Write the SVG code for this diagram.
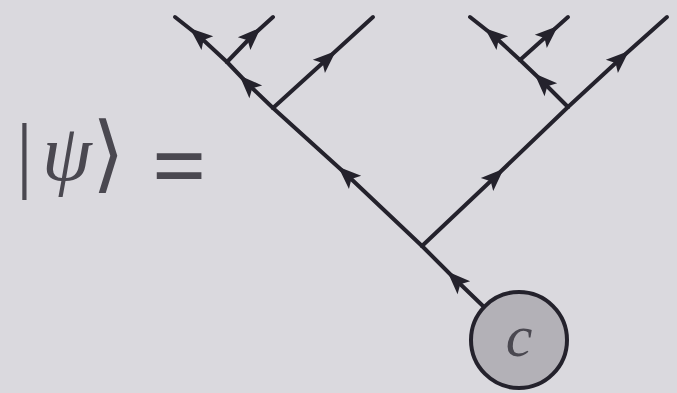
<svg xmlns="http://www.w3.org/2000/svg" width="677" height="393" viewBox="0 0 677 393">
<defs>
<style>
.e{fill:none;stroke:#24222c;stroke-width:4;stroke-linecap:round;marker-mid:url(#ah)}
.t{font-family:'Liberation Serif',serif;fill:#4a4850}
</style>
<marker id="ah" markerUnits="userSpaceOnUse" markerWidth="40" markerHeight="40" viewBox="-20 -20 40 40" refX="0" refY="0" orient="auto">
<path d="M12 0 L-11 -9 L-6 0 L-11 9 Z" fill="#24222c"/>
</marker>
</defs>
<rect width="677" height="393" fill="#dad9de"/>
<g id="lhs">
<text class="t" x="16" y="182" font-size="84">|</text>
<text class="t" x="42" y="180" font-size="80" font-style="italic">ψ</text>
<text class="t" x="92" y="182" font-size="84">⟩</text>
</g>
<g id="eq">
<text class="t" x="152" y="198" font-size="96" font-weight="bold" fill="#222">=</text>
</g>
<g id="connectors">
<path class="e" d="M483 306 L456 280 L422 246"/>
<path class="e" d="M422 246 L347 175 L273 108"/>
<path class="e" d="M273 108 L248 84 L227 62"/>
<path class="e" d="M227 62 L199 36 L175 17"/>
<path class="e" d="M227 62 L252 36 L273 17"/>
<path class="e" d="M273 108 L327 59 L373 17"/>
<path class="e" d="M422 246 L495 177 L568 107"/>
<path class="e" d="M568 107 L543 82 L520 60"/>
<path class="e" d="M520 60 L494 36 L470 17"/>
<path class="e" d="M520 60 L549 34 L568 17"/>
<path class="e" d="M568 107 L620 59 L667 17"/>
</g>
<g id="c-node">
<circle cx="519" cy="340" r="48" fill="#b3b1b7" stroke="#24222c" stroke-width="4"/>
<text class="t" x="519" y="356" font-size="60" font-style="italic" text-anchor="middle" fill="#2a2830">c</text>
</g>
</svg>
